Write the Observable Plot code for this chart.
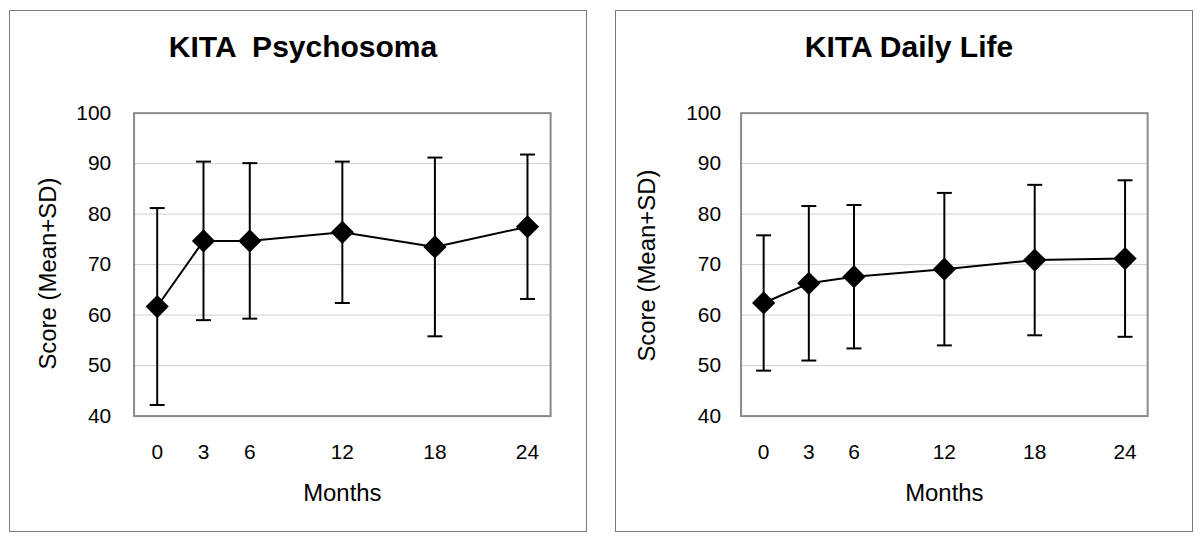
<!DOCTYPE html>
<html><head><meta charset="utf-8">
<script src="https://cdn.jsdelivr.net/npm/d3@7"></script>
<script src="https://cdn.jsdelivr.net/npm/@observablehq/plot@0.6"></script>
<style>
body{margin:0;background:#fff;}
#wrap{position:relative;width:1200px;height:546px;font-family:"Liberation Sans",Arial,sans-serif;}
.panel{position:absolute;top:10px;width:578px;height:522px;box-sizing:border-box;border:1.5px solid #7a7a7a;background:#fff;}
.panel svg{position:absolute;left:-1.5px;top:-1.5px;}
.title{position:absolute;left:5px;width:100%;text-align:center;font-weight:bold;font-size:30px;line-height:30px;white-space:pre;color:#000;top:21px;}
</style></head><body><div id="wrap"></div>
<script>
const months = [0, 3, 6, 12, 18, 24];
const psychoMean = [61.7, 74.7, 74.7, 76.4, 73.5, 77.5];
const psychoSD = [19.5, 15.7, 15.4, 14.0, 17.7, 14.3];
const dailyMean = [62.4, 66.3, 67.6, 69.1, 70.9, 71.2];
const dailySD = [13.4, 15.3, 14.2, 15.1, 14.9, 15.5];
const yTicks = [40, 50, 60, 70, 80, 90, 100];
const gridTicks = [50, 60, 70, 80, 90];
const titles = ["KITA  Psychosoma", "KITA Daily Life"];
const xLabel = "Months";
const yLabel = "Score (Mean+SD)";

const cap = {draw(ctx) { ctx.moveTo(-7.5, 0); ctx.lineTo(7.5, 0); }};

function rows(means, sds) {
  return months.map((m, i) => ({m, mean: means[i], lo: means[i] - sds[i], hi: means[i] + sds[i]}));
}

const panels = [
  {left: 9, title: titles[0], data: rows(psychoMean, psychoSD), mL: 125, mR: 35, tickPad: 23, yDx: -86, yDy: 9},
  {left: 615, title: titles[1], data: rows(dailyMean, dailySD), mL: 126, mR: 44, tickPad: 20, yDx: -94, yDy: 1}
];

const wrap = document.getElementById("wrap");
for (const p of panels) {
  const div = document.createElement("div");
  div.className = "panel";
  div.style.left = p.left + "px";
  const t = document.createElement("div");
  t.className = "title";
  t.textContent = p.title;
  const chart = Plot.plot({
    width: 578, height: 522,
    marginLeft: p.mL, marginRight: p.mR, marginTop: 103, marginBottom: 115,
    style: {fontFamily: "Liberation Sans, Arial, sans-serif", fontSize: "21px", color: "#000", background: "transparent", overflow: "visible"},
    x: {domain: [-1.5, 25.5]},
    y: {domain: [40, 100]},
    marks: [
      Plot.gridY(gridTicks, {stroke: "#cfcfcf", strokeOpacity: 1, strokeWidth: 1}),
      Plot.frame({stroke: "#8a8a8a", strokeWidth: 2}),
      Plot.axisY(yTicks, {tickSize: 0, tickPadding: p.tickPad, fontSize: 21, label: null}),
      Plot.axisX(months, {tickSize: 0, tickPadding: 28, fontSize: 21, label: null}),
      Plot.text([yLabel], {frameAnchor: "left", textAnchor: "middle", lineAnchor: "middle", rotate: -90, dx: p.yDx, dy: p.yDy, fontSize: 24, fill: "#000"}),
      Plot.text([xLabel], {frameAnchor: "bottom", textAnchor: "middle", lineAnchor: "middle", dy: 78, fontSize: 24, fill: "#000"}),
      Plot.ruleX(p.data, {x: "m", y1: "lo", y2: "hi", stroke: "#000", strokeWidth: 2}),
      Plot.dot(p.data, {x: "m", y: "hi", symbol: cap, stroke: "#000", fill: "none", strokeWidth: 2}),
      Plot.dot(p.data, {x: "m", y: "lo", symbol: cap, stroke: "#000", fill: "none", strokeWidth: 2}),
      Plot.line(p.data, {x: "m", y: "mean", stroke: "#000", strokeWidth: 2}),
      Plot.dot(p.data, {x: "m", y: "mean", symbol: "diamond2", r: 10.5, fill: "#000", stroke: "none"})
    ]
  });
  div.appendChild(chart);
  div.appendChild(t);
  wrap.appendChild(div);
}
</script>
</body></html>
